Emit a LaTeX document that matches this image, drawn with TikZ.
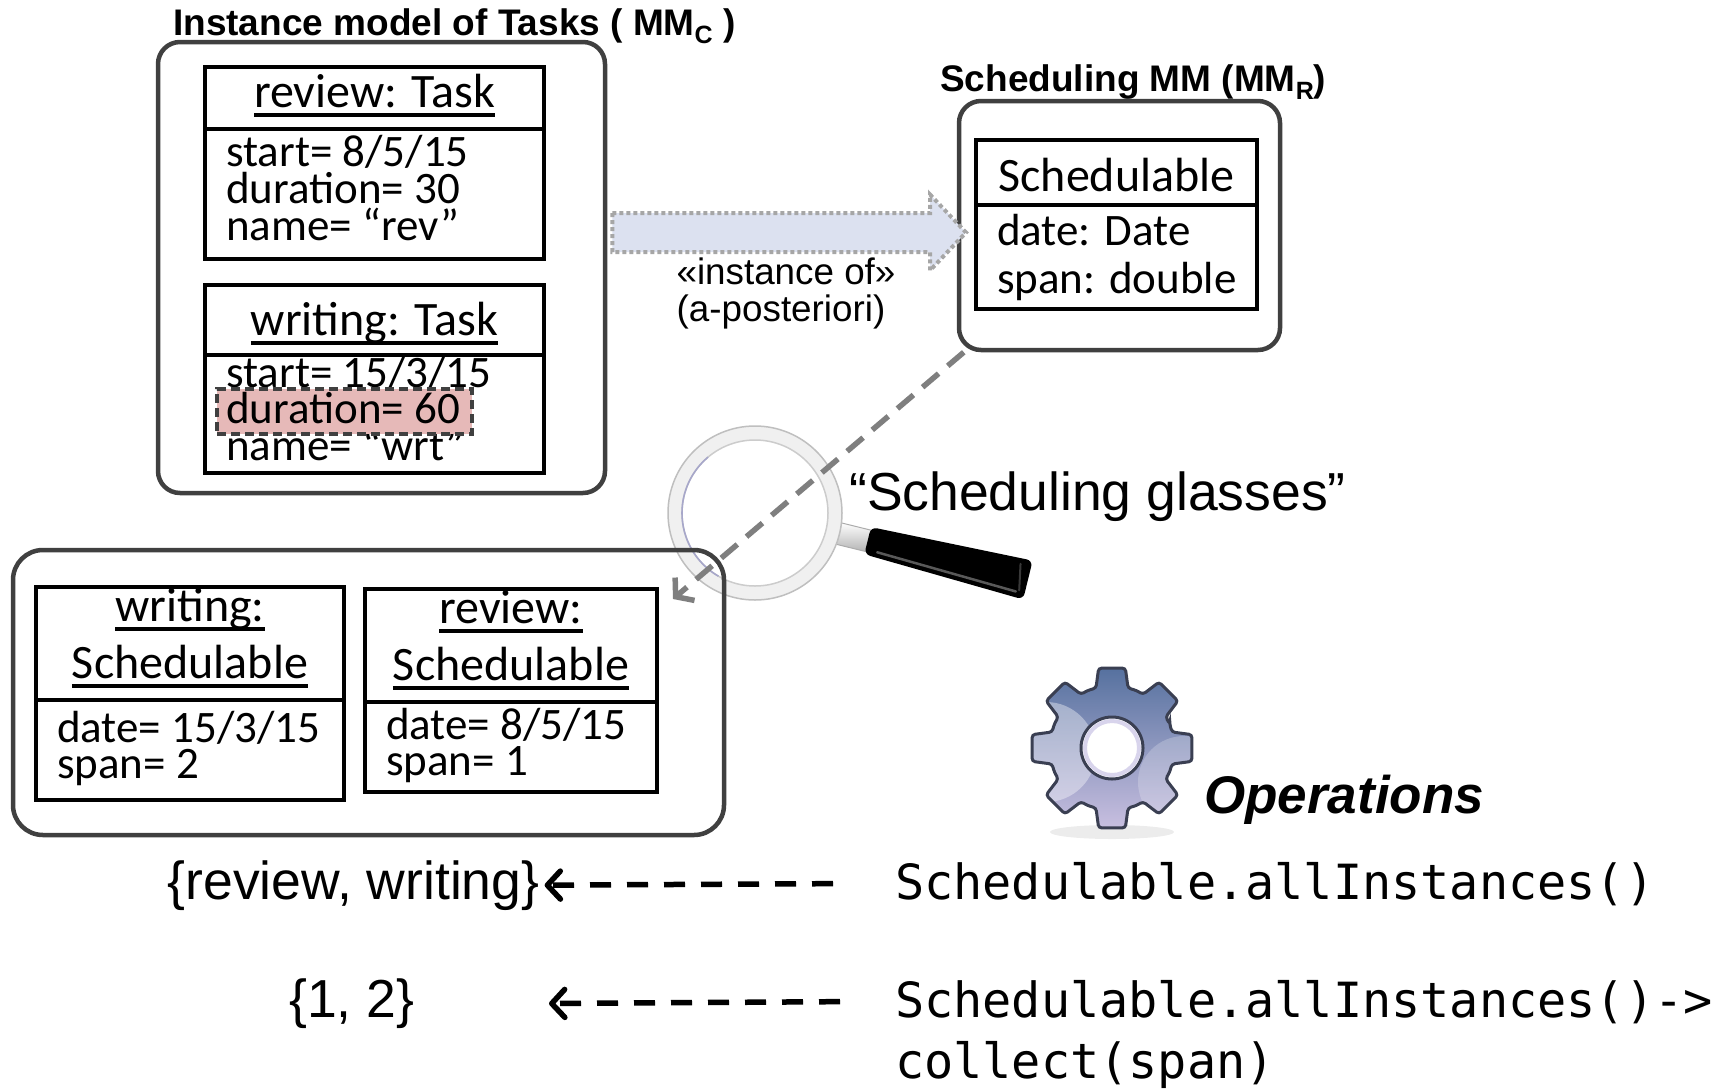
\documentclass[tikz,border=0pt]{standalone}
\usepackage{fontspec}
\setmainfont{Carlito}
\newfontfamily\arialf{Liberation Sans}
\newfontfamily\monof{DejaVu Sans Mono}
\usetikzlibrary{arrows.meta,calc,fit}

\definecolor{frame}{HTML}{404040}
\definecolor{hlfill}{HTML}{E6B9B8}
\definecolor{hlline}{HTML}{404040}
\definecolor{arrfill}{HTML}{DCE1F0}
\definecolor{arrdot}{HTML}{A6A6A6}
\definecolor{conn}{HTML}{7F7F7F}
\definecolor{gearTop}{HTML}{56719F}
\definecolor{gearBot}{HTML}{C8BFE0}
\definecolor{gearEdge}{HTML}{3A3F52}
\definecolor{gearLight}{HTML}{D8D4EC}

% underlined object names
\newcommand\ulword[1]{\setbox0=\hbox{#1}\rlap{\rule[-0.2em]{\wd0}{0.085em}}\box0}
% lowered small letter for metamodel names
\newcommand\lowsub[1]{\raisebox{-0.22em}{\fontsize{25bp}{25bp}\selectfont #1}}
% outline of the eight-tooth gear, centred on the origin
\newcommand\gearoutline{(-22.5:62.5) \foreach \a in {0,45,...,315} {
      -- (\a-15:62) -- (\a-9.5:81) -- (\a+9.5:81) -- (\a+15:62) -- (\a+22.5:62.5) } -- cycle}

\begin{document}
\begin{tikzpicture}[x=1bp, y=-1bp,
  modelbox/.style={draw=frame, line width=4.5bp, rounded corners=22bp, inner sep=0pt},
  classbox/.style={draw=black, line width=4bp, inner sep=0pt},
  ctxt/.style={font=\fontsize{45bp}{45bp}\selectfont, inner sep=0pt, anchor=base west},
  chead/.style={font=\fontsize{48bp}{48bp}\selectfont, inner sep=0pt, anchor=base},
  ttl/.style={font=\arialf\bfseries\fontsize{37bp}{37bp}\selectfont, inner sep=0pt, anchor=base west},
  lbl/.style={font=\arialf\fontsize{36.8bp}{36.8bp}\selectfont, inner sep=0pt, anchor=base},
  big/.style={font=\arialf\fontsize{53.5bp}{53.5bp}\selectfont, inner sep=0pt, anchor=base west},
  code/.style={font=\monof\fontsize{48.5bp}{48.5bp}\selectfont, inner sep=0pt, anchor=base west},
  opline/.style={draw=black, line width=5.5bp, dash pattern=on 21bp off 16bp,
    -{Straight Barb[length=13bp,width=28bp,round]}},
  glassline/.style={draw=conn, line width=5.5bp, dash pattern=on 21bp off 12bp,
    -{Straight Barb[length=12bp,width=30bp]}},
  instarrow/.style={fill=arrfill, draw=arrdot, line width=4bp, dash pattern=on 4bp off 3bp},
]
\useasboundingbox (0,0) rectangle (1729,1089);

% ---------------- instance model of tasks ----------------
\node[ttl] (ttlc) at (173,35) {Instance model of Tasks ( MM\lowsub{C} )};
\node[modelbox, fit={(158,42) (605,493)}] (mmc) {};

\node[classbox, fit={(205,67) (544,129)}] (revh) {};
\node[classbox, fit={(205,129) (544,259)}] (revb) {};
\node[chead] (revn) at (374.5,107) {\ulword{review: Task}};
\node[ctxt] (reva1) at (226,166) {start= 8/5/15};
\node[ctxt] (reva2) at (226,203) {duration= 30};
\node[ctxt] (reva3) at (226,240) {name= “rev”};

\node[classbox, fit={(205,285) (544,355)}] (wrih) {};
\node[classbox, fit={(205,355) (544,473)}] (wrib) {};
\node[chead] (wrin) at (374.5,335) {\ulword{writing: Task}};
\node[ctxt] (wria1) at (226,387) {start= 15/3/15};
\node[ctxt] (wria3) at (226,460) {name= “wrt”};
\node[fill=hlfill, draw=hlline, line width=4bp, dash pattern=on 9bp off 5bp,
      inner sep=0pt, fit={(217,389) (472,434)}] (hl) {};
\node[ctxt] (wria2) at (226,423) {duration= 60};

% ---------------- scheduling metamodel ----------------
\node[ttl] (ttlr) at (940,91.5) {Scheduling MM (MM\lowsub{R})};
\node[modelbox, fit={(959,101) (1280,350)}] (mmr) {};
\node[classbox, fit={(976,140) (1257,205)}] (schh) {};
\node[classbox, fit={(976,205) (1257,309)}] (schb) {};
\node[chead] (schn) at (1116.5,191) {Schedulable};
\node[ctxt] (scha1) at (997,245) {date: Date};
\node[ctxt] (scha2) at (997,293) {span: double};

% ---------------- a-posteriori typing arrow ----------------
\coordinate (ia) at ([xshift=5bp]mmc.east |- 0,232.5);
\coordinate (ib) at ([xshift=-8bp]schh.west |- 0,232.5);
\draw[instarrow] ($(ia)+(0,-19.5)$) -- ($(ib)+(-36,-19.5)$) -- ($(ib)+(-36,-38)$)
  -- (ib) -- ($(ib)+(-36,38)$) -- ($(ib)+(-36,19.5)$) -- ($(ia)+(0,19.5)$) -- cycle;
\node[lbl] (inst1) at (786,284.5) {«instance of»};
\node[lbl] (inst2) at (781,321) {(a-posteriori)};

% ---------------- magnifying glass ----------------
\begin{scope}[shift={(755,513)}, rotate=-13.8]
  \shade[top color=white, bottom color=gray!60, draw=gray!65, line width=1bp]
    (84,-11) rectangle (120,11);
  \fill[black, rounded corners=6bp] (116,-14) -- (281,-20) -- (281,20) -- (116,14) -- cycle;
  \draw[gray!70!black, line width=2.5bp, line cap=round] (128,9) -- (272,14);
  \draw[gray!45!black, line width=2bp, line cap=round] (270,-14) -- (275,12);
\end{scope}
\draw[line width=14bp, draw=gray!12] (755,513) circle (80);
\draw[line width=1.5bp, draw=gray!50] (755,513) circle (87);
\draw[line width=1.5bp, draw=gray!40] (755,513) circle (73);
\draw[line width=1.6bp, draw=blue!25!gray!55] (755,513) ++(120:73) arc[start angle=120, end angle=230, radius=73];
\node[big] (glasses) at (849,510.5) {“Scheduling glasses”};

% ---------------- scheduling view ----------------
\node[modelbox, rounded corners=30bp, fit={(13,550) (724,835)}] (view) {};

\node[classbox, fit={(36,587) (344,700)}] (wsh) {};
\node[classbox, fit={(36,700) (344,800)}] (wsb) {};
\node[chead] (wsn1) at (190,621) {\ulword{writing:}};
\node[chead] (wsn2) at (190,678) {\ulword{Schedulable}};
\node[ctxt] (wsa1) at (57,742) {date= 15/3/15};
\node[ctxt] (wsa2) at (57,778.5) {span= 2};

\node[classbox, fit={(365,589) (657,702)}] (rsh) {};
\node[classbox, fit={(365,702) (657,792)}] (rsb) {};
\node[chead] (rsn1) at (511,623) {\ulword{review:}};
\node[chead] (rsn2) at (511,680) {\ulword{Schedulable}};
\node[ctxt] (rsa1) at (386,739) {date= 8/5/15};
\node[ctxt] (rsa2) at (386,775) {span= 1};

\coordinate (lensend) at (673,599);
\draw[glassline] ([xshift=7bp]mmr.south west) -- (lensend);

% ---------------- operations gear ----------------
\begin{scope}[shift={(1112,748)}]
  \fill[gray!30, opacity=0.5] (0,84) ellipse (62 and 7);
  \shade[top color=gearTop, bottom color=gearBot] \gearoutline;
  \begin{scope}
    \clip \gearoutline;
    \fill[white, opacity=0.38] (-66,4) circle (50);
    \fill[white, opacity=0.22] (72,34) circle (46);
  \end{scope}
  \draw[gearEdge, line width=3bp, rounded corners=3bp] \gearoutline;
  \filldraw[fill=white, draw=gearEdge, line width=3bp] (0,0) circle (31);
  \draw[draw=gearLight, line width=4bp] (0,0) circle (27);
\end{scope}
\node[font=\arialf\bfseries\itshape\fontsize{53bp}{53bp}\selectfont, inner sep=0pt,
      anchor=base west] (ops) at (1204,813) {Operations};

% ---------------- operations and their results ----------------
\node[big] (res1) at (167.5,899) {\{review, writing\}};
\node[code] (code1) at (895,899) {Schedulable.allInstances()};
\draw[opline] ([xshift=-62bp]code1.west) -- ([xshift=5bp]res1.east);

\node[big] (res2) at (289,1017) {\{1, 2\}};
\node[code] (code2a) at (895,1017) {Schedulable.allInstances()->};
\node[code] (code2b) at (895,1078) {collect(span)};
\coordinate (res2tip) at (549,1003.5);
\draw[opline] ([xshift=-55bp]code2a.west) -- (res2tip);
\end{tikzpicture}
\end{document}
